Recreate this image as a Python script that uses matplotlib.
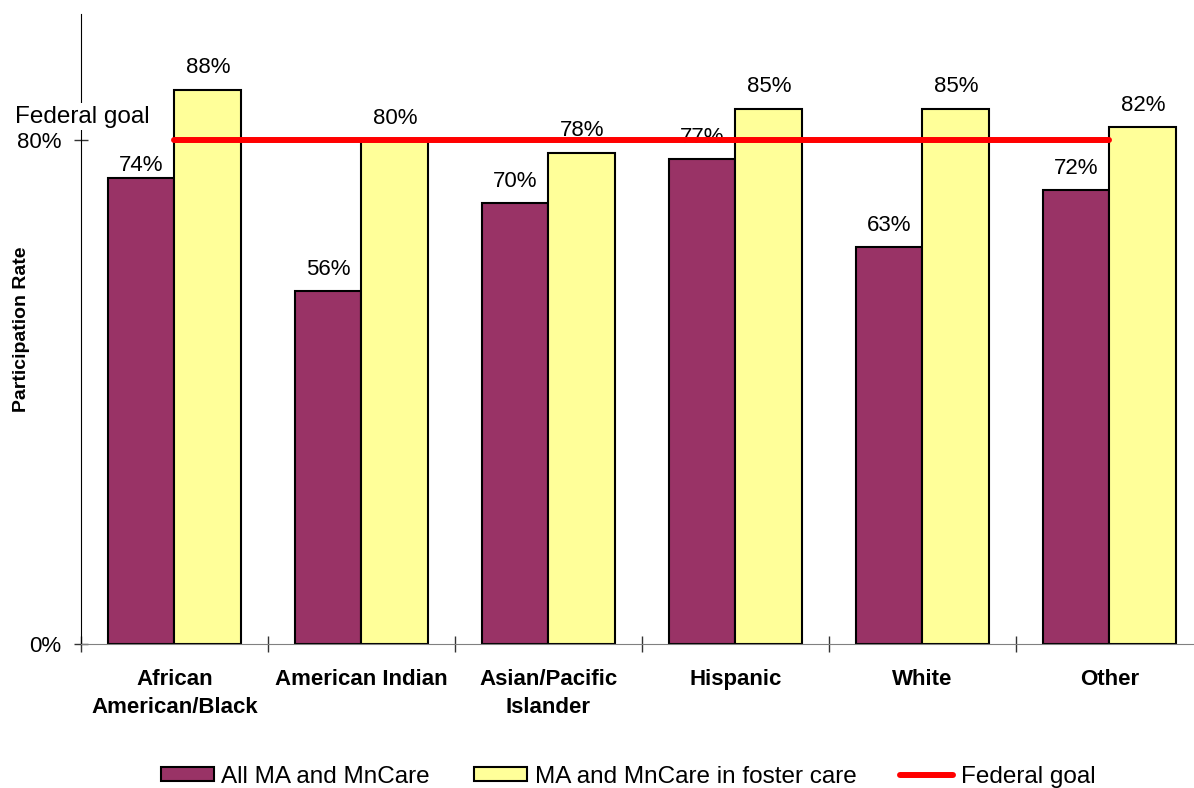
import matplotlib
matplotlib.use("Agg")
import matplotlib.pyplot as plt
import matplotlib.transforms as mtransforms
from matplotlib.lines import Line2D
import numpy as np

plt.rcParams['font.family'] = ['Liberation Sans', 'DejaVu Sans']

categories = ["African\nAmerican/Black", "American Indian", "Asian/Pacific\nIslander",
              "Hispanic", "White", "Other"]
all_ma = [74, 56, 70, 77, 63, 72]
foster = [88, 80, 78, 85, 85, 82]
federal_goal = 80
series_names = ["All MA and MnCare", "MA and MnCare in foster care", "Federal goal"]
y_ticks = [0, 80]
y_tick_labels = ["0%", "80%"]

W, H = 1194, 788
fig = plt.figure(figsize=(W / 100, H / 100), dpi=100)
ax = fig.add_axes([81 / W, 144 / H, 1122 / W, 630 / H])

x = np.arange(len(categories))
bw = 0.358
maroon = "#993366"
yellow = "#FFFF99"
b1 = ax.bar(x - bw / 2, all_ma, bw, color=maroon, edgecolor="black", linewidth=1.5, zorder=2)
b2 = ax.bar(x + bw / 2, foster, bw, color=yellow, edgecolor="black", linewidth=1.5, zorder=2)

goal_line, = ax.plot([x[0], x[-1]], [federal_goal, federal_goal], color="#FF0000",
                     linewidth=4.3, solid_capstyle="round", zorder=4)

# value labels
for i, v in enumerate(all_ma):
    off = 1.5 if i == 0 else 8
    ax.annotate(f"{v}%", (x[i] - bw / 2, v), xytext=(0, off), textcoords="offset points",
                ha="center", va="bottom", fontsize=16)
for i, v in enumerate(foster):
    ax.annotate(f"{v}%", (x[i] + bw / 2, v), xytext=(0, 8), textcoords="offset points",
                ha="center", va="bottom", fontsize=16)

ax.set_xlim(-0.5, len(categories) - 0.5)
ax.set_ylim(0, 100)

# boundary ticks (major) and category labels (minor)
ax.set_xticks(np.arange(len(categories)) - 0.5)
ax.set_xticklabels([])
ax.set_xticks(x, minor=True)
ax.set_xticklabels(categories, minor=True, fontsize=16, fontweight="bold", linespacing=1.45)
ax.tick_params(axis="x", which="major", direction="inout", length=11, width=1, color="#333333")
ax.tick_params(axis="x", which="minor", length=0, pad=18)

ax.set_yticks(y_ticks)
ax.set_yticklabels(y_tick_labels, fontsize=16)
ax.tick_params(axis="y", direction="inout", length=10, width=1, pad=9, color="#333333")

for s in ["top", "right"]:
    ax.spines[s].set_visible(False)
ax.spines["left"].set_color("black")
ax.spines["bottom"].set_color("#808080")

ax.set_ylabel("Participation Rate", fontsize=14, fontweight="bold", va="center")
ax.yaxis.set_label_coords(-0.053, 0.5)

blend = mtransforms.blended_transform_factory(ax.transAxes, ax.transData)
ax.annotate("Federal goal", (-0.0588, federal_goal), xycoords=blend, xytext=(0, 12.6),
            textcoords="offset points", ha="left", va="baseline", fontsize=17.5,
            bbox=dict(facecolor="white", edgecolor="none", pad=1.5), zorder=6,
            annotation_clip=False)

legend_line = Line2D([], [], color="#FF0000", linewidth=4.3, solid_capstyle="round")
fig.legend([b1, b2, legend_line], series_names, loc="center", ncol=3,
           bbox_to_anchor=(628 / W, 1 - 777 / H), frameon=False, fontsize=17.5,
           handlelength=2.2, handleheight=0.5, handletextpad=0.3, columnspacing=1.8,
           borderpad=0, borderaxespad=0)

fig.savefig("out.png", dpi=100)
